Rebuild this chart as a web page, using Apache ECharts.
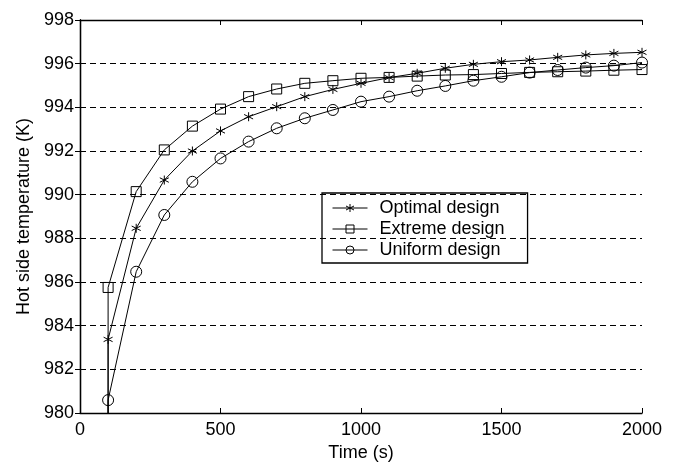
<!DOCTYPE html>
<html>
<head>
<meta charset="utf-8">
<script src="https://cdn.jsdelivr.net/npm/echarts@6/dist/echarts.min.js"></script>
<style>
  html, body { margin: 0; padding: 0; background: #fff; }
  #chart { width: 680px; height: 464px; }
</style>
</head>
<body>
<div id="chart"></div>
<script>
// time steps (s)
const times = [100, 200, 300, 400, 500, 600, 700, 800, 900, 1000,
  1100, 1200, 1300, 1400, 1500, 1600, 1700, 1800, 1900, 2000];
// hot side temperature (K)
const optimal = [983.37, 988.46, 990.67, 992.0, 992.92, 993.57, 994.03, 994.49, 994.82, 995.10,
  995.36, 995.56, 995.79, 995.97, 996.09, 996.17, 996.29, 996.40, 996.47, 996.52];
const extreme = [985.75, 990.14, 992.05, 993.14, 993.92, 994.49, 994.84, 995.10, 995.22, 995.33,
  995.37, 995.43, 995.48, 995.5, 995.55, 995.6, 995.63, 995.66, 995.7, 995.73];
const uniform = [980.59, 986.47, 989.07, 990.59, 991.66, 992.43, 993.04, 993.50, 993.88, 994.26,
  994.49, 994.76, 994.98, 995.22, 995.40, 995.59, 995.71, 995.82, 995.91, 996.05];
// every curve starts from the initial temperature
const startTemp = 980;
const yTicks = [980, 982, 984, 986, 988, 990, 992, 994, 996, 998];
const xTicks = [0, 500, 1000, 1500, 2000];

const font = 'Liberation Sans, Arial, sans-serif';
const starPath = 'path://M0,-10L0,10M-8.66,-5L8.66,5M-8.66,5L8.66,-5';

function buildData(vals) {
  const d = [{ value: [times[0], startTemp], symbol: 'none' }];
  vals.forEach((v, i) => d.push([times[i], v]));
  return d;
}

function makeSeries(name, vals, symbol, size) {
  return {
    name: name,
    type: 'line',
    data: buildData(vals),
    symbol: symbol,
    symbolSize: size,
    showAllSymbol: true,
    animation: false,
    lineStyle: { color: '#000', width: 1 },
    itemStyle: { color: 'rgba(0,0,0,0)', borderColor: '#000', borderWidth: 1 },
    emphasis: { disabled: true },
  };
}

const chart = echarts.init(document.getElementById('chart'));
const axisCommon = {
  type: 'value',
  axisLine: { show: true, lineStyle: { color: '#000', width: 1.3 } },
  axisTick: { show: true, inside: true, length: 5, lineStyle: { color: '#000' } },
  splitLine: { show: false },
};
chart.setOption({
  backgroundColor: '#fff',
  grid: { left: 80, right: 38, top: 20, bottom: 51, containLabel: false, outerBoundsMode: 'none' },
  legend: {
    left: 322, top: 193,
    orient: 'vertical',
    borderColor: '#000', borderWidth: 1.3,
    padding: [6, 23, 4, 10],
    itemGap: 3,
    itemWidth: 35, itemHeight: 10,
    lineStyle: { width: 1 },
    itemStyle: { borderWidth: 1 },
    textStyle: { fontFamily: font, fontSize: 18, color: '#000', lineHeight: 18, padding: [0, 0, 0, 7] },
    data: ['Optimal design', 'Extreme design', 'Uniform design'],
  },
  xAxis: [
    Object.assign({}, axisCommon, {
      min: 0, max: 2000, interval: 500,
      name: 'Time (s)', nameLocation: 'middle', nameGap: 23,
      nameTextStyle: { fontFamily: font, fontSize: 18, color: '#000' },
      axisLabel: { fontFamily: font, fontSize: 18, color: '#000', margin: 8,
        formatter: v => xTicks.includes(v) ? String(v) : '' },
    }),
    Object.assign({}, axisCommon, {
      position: 'top', min: 0, max: 2000, interval: 500,
      axisLabel: { show: false },
    }),
  ],
  yAxis: [
    Object.assign({}, axisCommon, {
      min: 980, max: 998, interval: 2,
      name: 'Hot side temperature (K)', nameLocation: 'middle', nameGap: 46,
      nameTextStyle: { fontFamily: font, fontSize: 18, color: '#000' },
      axisLabel: { fontFamily: font, fontSize: 18, color: '#000', margin: 6,
        formatter: v => yTicks.includes(v) ? String(v) : '' },
      splitLine: { show: true, lineStyle: { color: '#000', type: [6, 4], width: 1 } },
    }),
    Object.assign({}, axisCommon, {
      position: 'right', min: 980, max: 998, interval: 2,
      axisLabel: { show: false },
    }),
  ],
  series: [
    makeSeries('Optimal design', optimal, starPath, 9),
    makeSeries('Extreme design', extreme, 'rect', 10),
    makeSeries('Uniform design', uniform, 'circle', 11),
  ],
});
</script>
</body>
</html>
